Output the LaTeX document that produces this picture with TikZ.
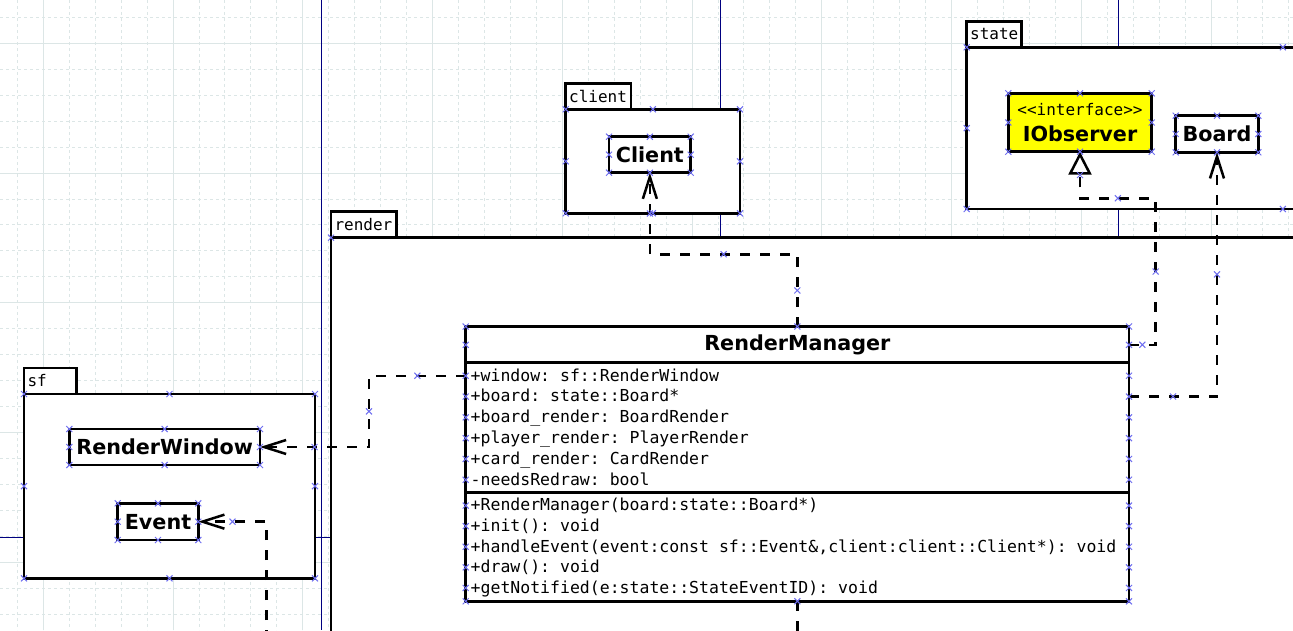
\documentclass[tikz,border=0pt]{standalone}
\usepackage{fontspec}
\setmainfont{DejaVu Sans}
\setmonofont{DejaVu Sans Mono}
\usetikzlibrary{arrows.meta}
\definecolor{gridline}{RGB}{220,230,230}
\definecolor{pageline}{RGB}{0,0,128}
\definecolor{handle}{RGB}{110,110,240}
\definecolor{ifacefill}{RGB}{255,255,0}

\tikzset{
  gridminor/.style={gridline, line width=1pt, dash pattern=on 3pt off 3pt},
  gridmajor/.style={gridline, line width=1pt},
  pagebreak/.style={pageline, line width=1pt},
  pkgbody/.style={draw, line width=2.5pt, fill=white, inner sep=0pt, outer sep=0pt},
  pkgtab/.style={draw, line width=2.5pt, fill=white, anchor=south west, outer sep=0pt,
    inner xsep=3.5pt, inner ysep=0pt, minimum height=26pt, text width=#1, align=left,
    font=\ttfamily\fontsize{16}{18}\selectfont},
  classbox/.style={draw, line width=2.5pt, fill=white, inner sep=0pt, outer sep=0pt,
    font=\bfseries\fontsize{20.7}{25.3}\selectfont},
  member/.style={anchor=base west, inner sep=0pt, text height=12.5pt, text depth=2pt,
    font=\ttfamily\fontsize{16.5}{20}\selectfont},
  dep/.style={line width=2.5pt, dash pattern=on 10pt off 10pt,
    -{Straight Barb[length=22pt, width=14pt]}},
  realize/.style={line width=2.5pt, dash pattern=on 10pt off 10pt,
    -{Triangle[open, length=23pt, width=23pt, fill=white]}},
  hmark/.style={handle, line width=1pt},
}

\begin{document}
\begin{tikzpicture}[x=1pt, y=-1pt]
\useasboundingbox (0,0) rectangle (1293,630);
\clip (0,0) rectangle (1293,630);
% Grid
\foreach \k in {-1,...,49}
  \draw[gridminor] ({43.3+25.95*\k},0) -- ++(0,630);
\foreach \k in {-1,...,23}
  \draw[gridminor] (0,{43.3+25.95*\k}) -- ++(1293,0);
\foreach \k in {0,...,9}
  \draw[gridmajor] ({43.3+129.75*\k},0) -- ++(0,630);
\foreach \k in {0,...,4}
  \draw[gridmajor] (0,{43.3+129.75*\k}) -- ++(1293,0);
% Page breaks
\foreach \px in {321,720,1118}
  \draw[pagebreak] (\px,0) -- ++(0,630);
\draw[pagebreak] (0,537) -- ++(1293,0);

% Packages
\node[pkgbody, minimum width=1469pt, minimum height=662.3pt] (prender) at (1065.5,568.85) {};
\node[pkgtab=58.7pt] (trender) at (prender.north west) {render};
\node[pkgbody, minimum width=174.3pt, minimum height=104pt] (pclient) at (652.85,161.3) {};
\node[pkgtab=58.3pt] (tclient) at (pclient.north west) {client};
\node[pkgbody, minimum width=632.3pt, minimum height=161.7pt] (pstate) at (1282.85,128.15) {};
\node[pkgtab=48pt] (tstate) at (pstate.north west) {state};
\node[pkgbody, minimum width=291pt, minimum height=184.3pt] (psf) at (169.5,486.15) {};
\node[pkgtab=45.7pt] (tsf) at (psf.north west) {sf};

% Classes
\node[classbox, minimum width=81.7pt, minimum height=36pt] (client) at (649.85,154.7) {Client};
\node[classbox, fill=ifacefill, minimum width=143.4pt, minimum height=58.4pt, align=center] (iobs) at (1080,122.5)
  {{\mdseries\ttfamily\fontsize{16}{25.3}\selectfont <{}<interface>{}>}\\IObserver};
\node[classbox, minimum width=82.6pt, minimum height=36.6pt] (board) at (1217,134) {Board};
\node[classbox, minimum width=190.7pt, minimum height=36pt] (rw) at (164.65,447) {RenderWindow};
\node[classbox, minimum width=80.6pt, minimum height=36.7pt] (event) at (158,521.65) {Event};

% RenderManager
\node[classbox, minimum width=663.3pt, minimum height=274.8pt] (rm) at (797.35,463.9) {};
\node[font=\bfseries\fontsize{20.7}{24}\selectfont, anchor=base, inner sep=0pt] (rmname) at (797.35,350.5) {RenderManager};
\draw[line width=2.5pt] (rm.west |- 0,362.5) -- (rm.east |- 0,362.5);
\draw[line width=2.5pt] (rm.west |- 0,492.3) -- (rm.east |- 0,492.3);
\node[member] (a1) at (470.5,381) {+window: sf::RenderWindow};
\node[member] (a2) at (470.5,401.8) {+board: state::Board*};
\node[member] (a3) at (470.5,422.6) {+board\_render: BoardRender};
\node[member] (a4) at (470.5,443.4) {+player\_render: PlayerRender};
\node[member] (a5) at (470.5,464.2) {+card\_render: CardRender};
\node[member] (a6) at (470.5,485) {-needsRedraw: bool};
\node[member] (m1) at (470.5,510.8) {+RenderManager(board:state::Board*)};
\node[member] (m2) at (470.5,531.4) {+init(): void};
\node[member] (m3) at (470.5,552) {+handleEvent(event:const sf::Event\&,client:client::Client*): void};
\node[member] (m4) at (470.5,572.6) {+draw(): void};
\node[member] (m5) at (470.5,593.2) {+getNotified(e:state::StateEventID): void};

% Dependencies
\draw[dep] (rm.north) -- ++(0,-72.2) -| (client.south);
\draw[dep] (rm.west |- a1) -- ++(-96.7,0) |- (rw.east);
\draw[dep] (rm.east |- a2) -| (board.south);
\coordinate (evtail) at (266.7,640);
\draw[dep] (evtail) |- (event.east);
\draw[line width=2.5pt, dash pattern=on 10pt off 10pt] (rm.south) -- ++(0,40);
% Realization
\draw[realize] (rm.east |- rmname) -| ++(26.7,-146.6) -| (iobs.south);

% Connection points
\foreach \n in {client,board,iobs,rw,event,pclient,pstate,psf}
  \foreach \a in {north west,north,north east,west,east,south west,south,south east}
    \draw[hmark] (\n.\a) +(-3,-3) -- +(3,3) +(-3,3) -- +(3,-3);
\foreach \r in {rmname,a1,a2,a3,a4,a5,a6,m1,m2,m3,m4,m5} {
  \draw[hmark] (rm.west |- \r) +(-3,-3) -- +(3,3) +(-3,3) -- +(3,-3);
  \draw[hmark] (rm.east |- \r) +(-3,-3) -- +(3,3) +(-3,3) -- +(3,-3);
}
\foreach \a in {north west,north,north east,south west,south,south east}
  \draw[hmark] (rm.\a) +(-3,-3) -- +(3,3) +(-3,3) -- +(3,-3);
\draw[hmark] (prender.north west) +(-3,-3) -- +(3,3) +(-3,3) -- +(3,-3);
% Segment midpoints
\foreach \p in {(417.35,375.75),(369,411.4),(314.5,447),(797.35,290.4),(723.6,254.3),(649.85,213.5),
  (1142.35,344.8),(1155.7,271.5),(1117.85,198.2),(1080,175),(1173,396.5),(1217,274.4),(232.5,521.65)}
  \draw[hmark] \p +(-3,-3) -- +(3,3) +(-3,3) -- +(3,-3);
\end{tikzpicture}
\end{document}
